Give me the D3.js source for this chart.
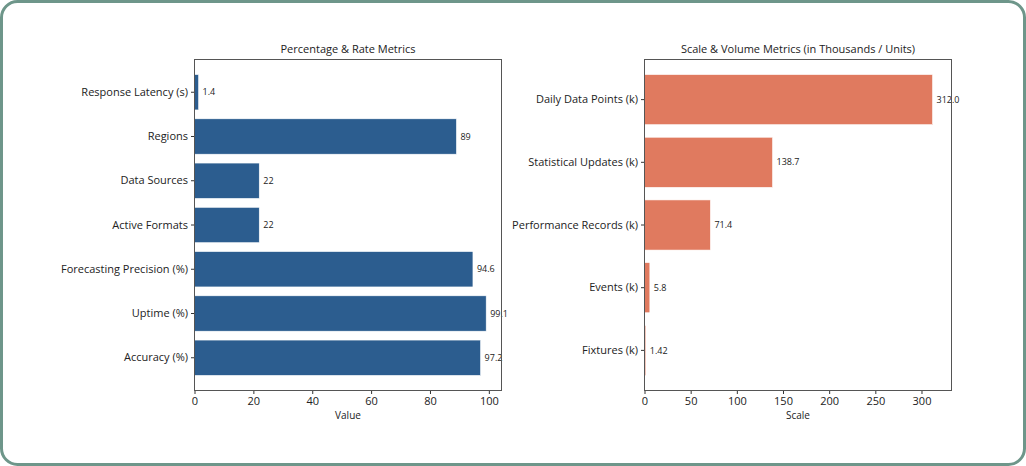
<!DOCTYPE html>
<html>
<head>
<meta charset="utf-8">
<script src="https://cdn.jsdelivr.net/npm/d3@7"></script>
<style>
  html, body { margin: 0; padding: 0; background: #fff; }
  svg text { font-family: "Open Sans", "Noto Sans", sans-serif; fill: #222; }
</style>
</head>
<body>
<script>
// left panel data (bottom to top, like the picture)
var rateNames = ["Accuracy (%)", "Uptime (%)", "Forecasting Precision (%)", "Active Formats",
                 "Data Sources", "Regions", "Response Latency (s)"];
var rateValues = [97.2, 99.1, 94.6, 22, 22, 89, 1.4];
var rateLabels = ["97.2", "99.1", "94.6", "22", "22", "89", "1.4"];
var rateTicks = [0, 20, 40, 60, 80, 100];

// right panel data
var scaleNames = ["Fixtures (k)", "Events (k)", "Performance Records (k)",
                  "Statistical Updates (k)", "Daily Data Points (k)"];
var scaleValues = [1.42, 5.8, 71.4, 138.7, 312.0];
var scaleLabels = ["1.42", "5.8", "71.4", "138.7", "312.0"];
var scaleTicks = [0, 50, 100, 150, 200, 250, 300];

const W = 1026, H = 466;

const svg = d3.select("body")
    .append("svg")
    .attr("width", W)
    .attr("height", H);

// card border
svg.append("rect")
    .attr("x", 1.5).attr("y", 1.5)
    .attr("width", W - 3).attr("height", H - 3)
    .attr("rx", 16).attr("ry", 16)
    .attr("fill", "#fff")
    .attr("stroke", "#6e968a")
    .attr("stroke-width", 3);

function panel(opt) {
    var g = svg.append("g");
    var n = opt.names.length;
    var x = d3.scaleLinear().domain([0, opt.xMax]).range([opt.left, opt.right]);
    // 0.8-wide bars plus a 5% margin of the data span at each end
    var y = d3.scaleBand()
        .domain(opt.names)
        .range([opt.bottom, opt.top])
        .paddingInner(0.2)
        .paddingOuter(0.05 * (n - 0.2));

    // bars
    g.selectAll("rect.bar")
        .data(opt.values)
        .enter()
        .append("rect")
        .attr("class", "bar")
        .attr("x", x(0))
        .attr("y", (d, i) => y(opt.names[i]))
        .attr("width", d => x(d) - x(0))
        .attr("height", y.bandwidth())
        .attr("fill", opt.color)
        .attr("stroke", "#fff")
        .attr("stroke-width", 0.6);

    // value labels
    g.selectAll("text.val")
        .data(opt.values)
        .enter()
        .append("text")
        .attr("class", "val")
        .attr("x", d => x(d) + 4)
        .attr("y", (d, i) => y(opt.names[i]) + y.bandwidth() / 2)
        .attr("dy", "0.35em")
        .attr("font-size", "9px")
        .text((d, i) => opt.labels[i]);

    // axes
    var xAxis = d3.axisBottom(x).tickValues(opt.ticks).tickSize(3.5).tickPadding(3);
    var gx = g.append("g")
        .attr("transform", "translate(0," + opt.bottom + ")")
        .call(xAxis);
    gx.select(".domain").remove();
    gx.selectAll("text").attr("font-size", "11px").style("fill", "#222");
    gx.selectAll("line").attr("stroke", "#333");

    var yAxis = d3.axisLeft(y).tickSize(3.5).tickPadding(3);
    var gy = g.append("g")
        .attr("transform", "translate(" + opt.left + ",0)")
        .call(yAxis);
    gy.select(".domain").remove();
    gy.selectAll("text").attr("font-size", "11px").style("fill", "#222");
    gy.selectAll("line").attr("stroke", "#333");

    // frame
    g.append("rect")
        .attr("x", opt.left).attr("y", opt.top)
        .attr("width", opt.right - opt.left)
        .attr("height", opt.bottom - opt.top)
        .attr("fill", "none")
        .attr("stroke", "#555")
        .attr("stroke-width", 1);

    // title and axis label
    g.append("text")
        .attr("x", (opt.left + opt.right) / 2)
        .attr("y", opt.top - 7)
        .attr("text-anchor", "middle")
        .attr("font-size", "11px")
        .text(opt.title);

    g.append("text")
        .attr("x", (opt.left + opt.right) / 2)
        .attr("y", opt.bottom + 28)
        .attr("text-anchor", "middle")
        .attr("font-size", "10px")
        .text(opt.xTitle);
}

panel({
    names: rateNames, values: rateValues, labels: rateLabels, ticks: rateTicks,
    xMax: 104.3, left: 194.5, right: 501.5, top: 59.5, bottom: 390.5,
    color: "#2c5d8f", title: "Percentage & Rate Metrics", xTitle: "Value"
});

panel({
    names: scaleNames, values: scaleValues, labels: scaleLabels, ticks: scaleTicks,
    xMax: 332.5, left: 644.5, right: 951.5, top: 59.5, bottom: 390.5,
    color: "#e07a5f", title: "Scale & Volume Metrics (in Thousands / Units)", xTitle: "Scale"
});
</script>
</body>
</html>
